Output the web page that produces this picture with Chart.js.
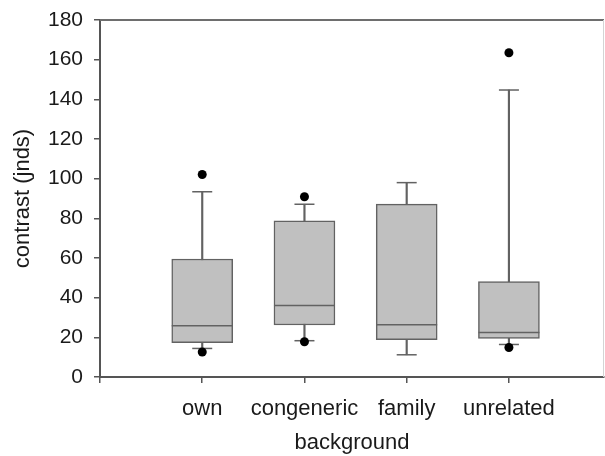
<!DOCTYPE html>
<html lang="en">
<head>
    <meta charset="UTF-8">
    <title>Contrast by background</title>
    <script src="https://cdn.jsdelivr.net/npm/chart.js"></script>
    <style>
        body {
            margin: 0;
            background-color: #ffffff;
            font-family: "Liberation Sans", Arial, sans-serif;
        }
        #wrap {
            width: 605px;
            height: 456px;
        }
    </style>
</head>
<body>
    <div id="wrap"><canvas id="boxChart"></canvas></div>

    <script>
        // box plot summary per background type
        const categories = ['own', 'congeneric', 'family', 'unrelated'];
        const q1 = [17.3, 26.2, 18.8, 19.5];
        const median = [25.9, 36.1, 26.4, 22.5];
        const q3 = [59.5, 78.8, 87.2, 48.1];
        const whiskerLow = [14.4, 18.3, 11.2, 16.4];
        const whiskerHigh = [93.4, 87.1, 98.0, 144.7];
        const outliers = [[12.6, 102.1], [17.8, 90.9], [], [14.9, 163.5]];
        const yTicks = [0, 20, 40, 60, 80, 100, 120, 140, 160, 180];

        const lineGrey = '#626262';
        const textColor = '#1a1a1a';
        const fontFamily = '"Liberation Sans", Arial, sans-serif';

        const pos = i => i + 1; // category i sits at x = i + 1

        // top and right frame of the plot
        const framePlugin = {
            id: 'frame',
            afterDraw(chart) {
                const { ctx, chartArea: a } = chart;
                ctx.save();
                ctx.strokeStyle = '#6e6e6e';
                ctx.lineWidth = 2;
                ctx.beginPath();
                ctx.moveTo(a.left, a.top);
                ctx.lineTo(a.right, a.top);
                ctx.stroke();
                ctx.strokeStyle = '#d4d4d4';
                ctx.lineWidth = 1;
                ctx.beginPath();
                ctx.moveTo(a.right - 0.5, a.top);
                ctx.lineTo(a.right - 0.5, a.bottom);
                ctx.stroke();
                ctx.restore();
            }
        };

        const ctx = document.getElementById('boxChart').getContext('2d');
        new Chart(ctx, {
            type: 'bar',
            data: {
                datasets: [
                    {
                        // whisker stems
                        label: 'whiskers',
                        data: categories.map((c, i) => ({ x: pos(i), y: [whiskerLow[i], whiskerHigh[i]] })),
                        backgroundColor: lineGrey,
                        borderWidth: 0,
                        barThickness: 1.5,
                        grouped: false,
                        order: 5
                    },
                    {
                        label: 'box',
                        data: categories.map((c, i) => ({ x: pos(i), y: [q1[i], q3[i]] })),
                        backgroundColor: '#c0c0c0',
                        borderColor: lineGrey,
                        borderWidth: 1.5,
                        borderSkipped: false,
                        barThickness: 61,
                        grouped: false,
                        order: 4
                    },
                    {
                        type: 'scatter',
                        label: 'median',
                        data: categories.map((c, i) => ({ x: pos(i), y: median[i] })),
                        pointStyle: 'line',
                        pointRadius: 30.5,
                        borderColor: lineGrey,
                        borderWidth: 1.5,
                        order: 3
                    },
                    {
                        type: 'scatter',
                        label: 'caps',
                        data: categories.flatMap((c, i) => [
                            { x: pos(i), y: whiskerLow[i] },
                            { x: pos(i), y: whiskerHigh[i] }
                        ]),
                        pointStyle: 'line',
                        pointRadius: 10,
                        borderColor: lineGrey,
                        borderWidth: 1.5,
                        order: 2
                    },
                    {
                        type: 'scatter',
                        label: 'outliers',
                        data: categories.flatMap((c, i) => outliers[i].map(v => ({ x: pos(i), y: v }))),
                        pointStyle: 'circle',
                        pointRadius: 4.5,
                        backgroundColor: '#000000',
                        borderColor: '#000000',
                        borderWidth: 0,
                        order: 1
                    }
                ]
            },
            options: {
                responsive: true,
                maintainAspectRatio: false,
                animation: false,
                layout: {
                    autoPadding: false,
                    padding: { top: 20, right: 1, bottom: 0, left: 8 }
                },
                plugins: {
                    legend: { display: false },
                    tooltip: { enabled: false }
                },
                scales: {
                    x: {
                        type: 'linear',
                        min: 0,
                        max: 4.93,
                        offset: false,
                        afterBuildTicks: scale => {
                            scale.ticks = [0, 1, 2, 3, 4].map(v => ({ value: v }));
                        },
                        afterFit: scale => {
                            scale.height = 79;
                            scale.paddingLeft = 0;
                            scale.paddingRight = 0;
                        },
                        ticks: {
                            autoSkip: false,
                            maxRotation: 0,
                            padding: 13,
                            color: textColor,
                            font: { family: fontFamily, size: 22 },
                            callback: v => categories[v - 1] || ''
                        },
                        grid: {
                            offset: false,
                            drawOnChartArea: false,
                            drawTicks: true,
                            tickLength: 6,
                            color: '#555555',
                            lineWidth: 1.5
                        },
                        border: { display: true, color: '#555555', width: 2 },
                        title: {
                            display: true,
                            text: 'background',
                            color: textColor,
                            padding: { top: 0, bottom: 0 },
                            font: { family: fontFamily, size: 22 }
                        }
                    },
                    y: {
                        type: 'linear',
                        min: 0,
                        max: 180,
                        afterBuildTicks: scale => {
                            scale.ticks = yTicks.map(v => ({ value: v }));
                        },
                        afterFit: scale => {
                            scale.width = 92;
                            scale.paddingTop = 0;
                            scale.paddingBottom = 0;
                        },
                        ticks: {
                            padding: 11,
                            color: textColor,
                            font: { family: fontFamily, size: 21 }
                        },
                        grid: {
                            drawOnChartArea: false,
                            drawTicks: true,
                            tickLength: 6,
                            color: '#555555',
                            lineWidth: 1.5
                        },
                        border: { display: true, color: '#555555', width: 2 },
                        title: {
                            display: true,
                            text: 'contrast (jnds)',
                            color: textColor,
                            padding: { top: 2, bottom: 2 },
                            font: { family: fontFamily, size: 22 }
                        }
                    }
                }
            },
            plugins: [framePlugin]
        });
    </script>
</body>
</html>
